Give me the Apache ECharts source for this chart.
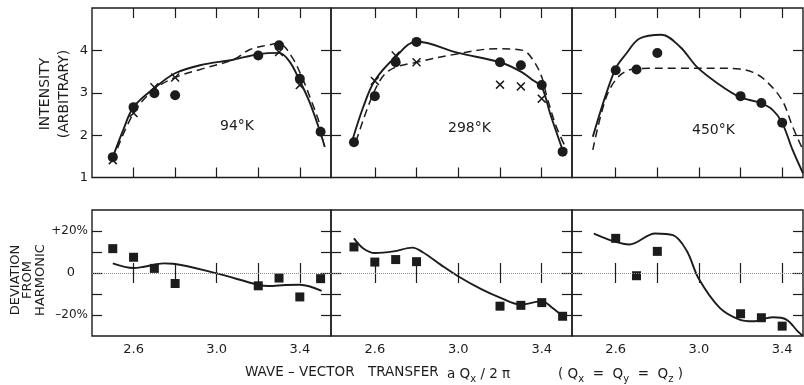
<!DOCTYPE html>
<html>
<head>
<meta charset="utf-8">
<script src="https://cdn.jsdelivr.net/npm/echarts@6/dist/echarts.min.js"></script>
<style>
	html, body { margin: 0; padding: 0; background: #fff; }
	#chart { width: 804px; height: 385px; }
</style>
</head>
<body>
<div id="chart"></div>
<script>
var ink = '#1c1c1c';
var font = 'DejaVu Sans';

// tick marks / labels
var xTicks = [2.6, 2.8, 3.0, 3.2, 3.4];
var xLabels = [2.6, 3.0, 3.4];
var intTicks = [2, 3, 4];
var intLabels = [1, 2, 3, 4];
var devTicks = [-20, -10, 0, 10, 20];
var devLabels = [-20, 0, 20];
var temps = ['94°K', '298°K', '450°K'];

// intensity, 94 K
var circX94 = [2.50, 2.60, 2.70, 2.80, 3.20, 3.30, 3.40, 3.50];
var circY94 = [1.48, 2.66, 2.99, 2.94, 3.88, 4.12, 3.33, 2.08];
var crossX94 = [2.50, 2.60, 2.70, 2.80, 3.30, 3.40];
var crossY94 = [1.41, 2.52, 3.13, 3.36, 3.96, 3.18];
var solidX94 = [2.50, 2.55, 2.60, 2.70, 2.80, 2.92, 3.08, 3.20, 3.30, 3.35, 3.395, 3.445, 3.495, 3.52];
var solidY94 = [1.48, 2.12, 2.66, 3.11, 3.46, 3.65, 3.78, 3.91, 3.94, 3.74, 3.33, 2.80, 2.12, 1.72];
var dashX94 = [2.50, 2.60, 2.70, 2.80, 2.92, 3.08, 3.16, 3.24, 3.30, 3.36, 3.41, 3.46, 3.50, 3.515];
var dashY94 = [1.41, 2.52, 3.08, 3.36, 3.55, 3.78, 4.02, 4.12, 4.16, 3.86, 3.37, 2.75, 2.20, 1.88];

// intensity, 298 K
var circX298 = [2.50, 2.60, 2.70, 2.80, 3.20, 3.30, 3.40, 3.50];
var circY298 = [1.83, 2.92, 3.72, 4.20, 3.72, 3.65, 3.18, 1.61];
var crossX298 = [2.60, 2.70, 2.80, 3.20, 3.30, 3.40];
var crossY298 = [3.28, 3.88, 3.72, 3.19, 3.15, 2.86];
var solidX298 = [2.49, 2.545, 2.60, 2.70, 2.80, 3.00, 3.20, 3.30, 3.36, 3.40, 3.44, 3.50];
var solidY298 = [1.84, 2.67, 3.29, 3.85, 4.21, 3.94, 3.72, 3.50, 3.29, 3.14, 2.51, 1.65];
var dashX298 = [2.51, 2.60, 2.67, 2.80, 3.00, 3.18, 3.31, 3.36, 3.40, 3.425, 3.47, 3.52];
var dashY298 = [1.85, 3.06, 3.53, 3.72, 3.92, 4.04, 4.00, 3.76, 3.37, 2.90, 2.20, 1.65];

// intensity, 450 K
var circX450 = [2.60, 2.70, 2.80, 3.20, 3.30, 3.40];
var circY450 = [3.53, 3.55, 3.94, 2.92, 2.76, 2.29];
var solidX450 = [2.49, 2.595, 2.65, 2.715, 2.82, 2.91, 2.99, 3.09, 3.195, 3.295, 3.355, 3.40, 3.45, 3.50];
var solidY450 = [1.96, 3.53, 3.92, 4.28, 4.37, 4.08, 3.61, 3.22, 2.90, 2.76, 2.59, 2.29, 1.65, 1.10];
var dashX450 = [2.49, 2.555, 2.62, 2.70, 2.90, 3.10, 3.195, 3.26, 3.32, 3.40, 3.45, 3.50];
var dashY450 = [1.65, 2.90, 3.41, 3.57, 3.58, 3.58, 3.56, 3.48, 3.29, 2.82, 2.20, 1.65];

// deviation from harmonic (%)
var sqX94 = [2.50, 2.60, 2.70, 2.80, 3.20, 3.30, 3.40, 3.50];
var sqY94 = [11.6, 7.5, 2.2, -5.0, -6.1, -2.4, -11.4, -2.7];
var devX94 = [2.50, 2.60, 2.65, 2.745, 2.79, 3.00, 3.20, 3.25, 3.33, 3.40, 3.505];
var devY94 = [4.6, 2.4, 3.0, 4.6, 4.4, -0.2, -5.6, -6.2, -5.7, -5.6, -8.5];

var sqX298 = [2.50, 2.60, 2.70, 2.80, 3.20, 3.30, 3.40, 3.50];
var sqY298 = [12.4, 5.2, 6.4, 5.4, -15.8, -15.4, -14.1, -20.6];
var devX298 = [2.50, 2.545, 2.60, 2.69, 2.78, 2.83, 2.915, 2.995, 3.11, 3.20, 3.30, 3.40, 3.45, 3.50];
var devY298 = [16.5, 11.7, 9.5, 10.3, 12.1, 9.9, 4.0, -1.3, -7.7, -11.7, -15.0, -13.4, -16.5, -20.6];

var sqX450 = [2.60, 2.70, 2.80, 3.20, 3.30, 3.40];
var sqY450 = [16.5, -1.3, 10.3, -19.4, -21.3, -25.3];
var devX450 = [2.495, 2.60, 2.665, 2.79, 2.875, 2.94, 3.00, 3.10, 3.195, 3.26, 3.355, 3.42, 3.475, 3.50];
var devY450 = [18.8, 14.8, 13.6, 18.8, 18.0, 10.8, -2.9, -16.6, -22.2, -23.0, -21.1, -22.2, -27.8, -30.0];

function pairs(xs, ys)
{
	var r = [];
	for (var i = 0; i < xs.length; i++)
		r.push([xs[i], ys[i]]);
	return r;
}

var crossPath = 'path://M0,1.2L1.2,0L5,3.8L8.8,0L10,1.2L6.2,5L10,8.8L8.8,10L5,6.2L1.2,10L0,8.8L3.8,5Z';

// column layout (px) and x range
var cols =
[
	{ left: 92, width: 239, min: 2.40, max: 3.55 },
	{ left: 331, width: 241, min: 2.39, max: 3.545 },
	{ left: 572, width: 231, min: 2.39, max: 3.50 }
];
var rows =
[
	{ top: 8, height: 169.5, min: 1, max: 5, ticks: intTicks, labels: intLabels },
	{ top: 210, height: 126, min: -30, max: 30, ticks: devTicks, labels: devLabels }
];

var grids = [], xAxes = [], yAxes = [], series = [];

function tickStyle(len, vals)
{
	return { show: true, inside: true, length: len, customValues: vals, lineStyle: { color: ink, width: 1.2 } };
}

function devFormat(v)
{
	if (v > 0) return '+' + v + '%';
	if (v < 0) return '\u2013' + (-v) + '%';
	return '{z|0}';
}

rows.forEach(function(row, r)
{
	cols.forEach(function(col, c)
	{
		var g = grids.length;
		grids.push({ left: col.left, top: row.top, width: col.width, height: row.height, show: true,
			borderColor: ink, borderWidth: 1.4, backgroundColor: 'transparent', containLabel: false, outerBoundsMode: 'none' });

		['bottom', 'top'].forEach(function(pos)
		{
			xAxes.push(
			{
				type: 'value', gridIndex: g, position: pos, min: col.min, max: col.max,
				axisLine: { show: false },
				axisTick: tickStyle(10, xTicks),
				axisLabel:
				{
					show: r === 1 && pos === 'bottom', customValues: xLabels, margin: 7,
					color: ink, fontFamily: font, fontSize: 13,
					formatter: function(v) { return v.toFixed(1); }
				},
				splitLine: { show: false }
			});
		});

		['left', 'right'].forEach(function(pos)
		{
			yAxes.push(
			{
				type: 'value', gridIndex: g, position: pos, min: row.min, max: row.max,
				axisLine: { show: false },
				axisTick: tickStyle(10, row.ticks),
				axisLabel:
				{
					show: c === 0 && pos === 'left', customValues: row.labels, margin: 4,
					color: ink, fontFamily: font, fontSize: r === 0 ? 13 : 12,
					formatter: r === 0 ? '{value}' : devFormat,
					rich: { z: { fontFamily: font, fontSize: 13, color: ink, padding: [0, 13, 0, 0] } }
				},
				splitLine: { show: false }
			});
		});
	});
});

function curve(g, xs, ys, dashed)
{
	series.push(
	{
		type: 'line', xAxisIndex: 2 * g, yAxisIndex: 2 * g, data: pairs(xs, ys),
		symbol: 'none', smooth: 0.35, silent: true, z: 2,
		lineStyle: { color: ink, width: dashed ? 1.5 : 1.9, type: dashed ? [8, 5] : 'solid' }
	});
}

function points(g, xs, ys, symbol, size, extra)
{
	var s =
	{
		type: 'scatter', xAxisIndex: 2 * g, yAxisIndex: 2 * g, data: pairs(xs, ys),
		symbol: symbol, symbolSize: size, silent: true, z: 3,
		itemStyle: { color: ink, opacity: 1 }
	};
	if (extra) s.markLine = extra;
	series.push(s);
}

var zeroLine =
{
	silent: true, symbol: 'none', animation: false, label: { show: false },
	lineStyle: { color: '#8a8a8a', type: 'dotted', width: 1 },
	data: [ { yAxis: 0 } ]
};

// top row
curve(0, solidX94, solidY94, false);
curve(0, dashX94, dashY94, true);
points(0, circX94, circY94, 'circle', 10);
points(0, crossX94, crossY94, crossPath, 9);

curve(1, solidX298, solidY298, false);
curve(1, dashX298, dashY298, true);
points(1, circX298, circY298, 'circle', 10);
points(1, crossX298, crossY298, crossPath, 9);

curve(2, solidX450, solidY450, false);
curve(2, dashX450, dashY450, true);
points(2, circX450, circY450, 'circle', 10);

// bottom row
curve(3, devX94, devY94, false);
points(3, sqX94, sqY94, 'rect', 9, zeroLine);
curve(4, devX298, devY298, false);
points(4, sqX298, sqY298, 'rect', 9, zeroLine);
curve(5, devX450, devY450, false);
points(5, sqX450, sqY450, 'rect', 9, zeroLine);

function label(text, x, y, size)
{
	return {
		type: 'text', x: x, y: y, silent: true,
		style: { text: text, fill: ink, fontFamily: font, fontSize: size, textAlign: 'left', textVerticalAlign: 'middle', align: 'left', verticalAlign: 'middle' }
	};
}

var graphics =
[
	label(temps[0], 220, 126, 14),
	label(temps[1], 448, 128, 14),
	label(temps[2], 692, 130, 14),
	{
		type: 'text', x: 55, y: 94, rotation: Math.PI / 2, silent: true,
		style: { text: 'INTENSITY\n(ARBITRARY)', fill: ink, fontFamily: font, fontSize: 14, lineHeight: 19,
			textAlign: 'center', textVerticalAlign: 'middle', align: 'center', verticalAlign: 'middle' }
	},
	{
		type: 'text', x: 28, y: 280, rotation: Math.PI / 2, silent: true,
		style: { text: 'DEVIATION\nFROM\nHARMONIC', fill: ink, fontFamily: font, fontSize: 13, lineHeight: 12.5,
			textAlign: 'center', textVerticalAlign: 'middle', align: 'center', verticalAlign: 'middle' }
	},
	label('WAVE \u2013 VECTOR', 245, 372, 13.5),
	label('TRANSFER', 368, 372, 13.5),
	{
		type: 'text', x: 447, y: 365, silent: true,
		style: { text: 'a Q{s|x} / 2 \u03c0', fill: ink, fontFamily: font, fontSize: 13.5,
			rich: { s: { fontFamily: font, fontSize: 10, fill: ink, padding: [9, 0, 0, 0] } } }
	},
	{
		type: 'text', x: 558, y: 365, silent: true,
		style: { text: '( Q{s|x}  =  Q{s|y}  =  Q{s|z} )', fill: ink, fontFamily: font, fontSize: 13.5,
			rich: { s: { fontFamily: font, fontSize: 10, fill: ink, padding: [9, 0, 0, 0] } } }
	}
];

var chart = echarts.init(document.getElementById('chart'));
chart.setOption(
{
	animation: false,
	backgroundColor: '#fff',
	grid: grids,
	xAxis: xAxes,
	yAxis: yAxes,
	series: series,
	graphic: graphics
});
</script>
</body>
</html>
